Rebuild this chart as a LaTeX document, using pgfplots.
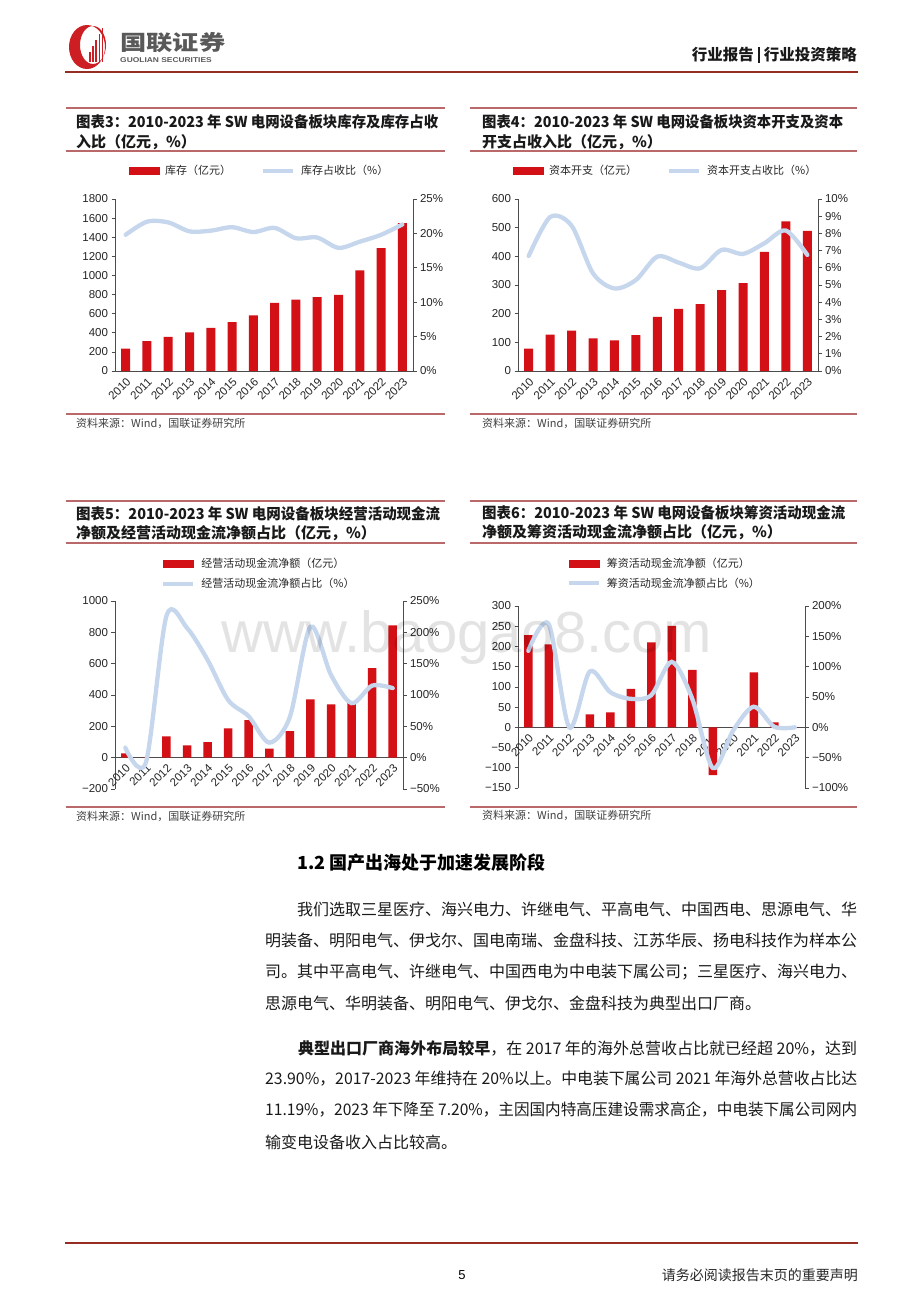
\documentclass[border=0pt]{standalone}
\usepackage{fontspec}
\setmainfont{Liberation Sans}
\newfontfamily\cjk{Noto Sans CJK SC}
\usepackage{graphicx}
\usepackage{pgfplots}
\pgfplotsset{compat=1.18}
\usepackage{pgfplotstable}

\definecolor{barred}{RGB}{210,16,22}
\definecolor{lineblue}{RGB}{197,214,237}
\definecolor{rulered}{RGB}{185,105,105}
\definecolor{headred}{RGB}{150,45,35}
\definecolor{logored}{RGB}{205,30,35}

% inventory (100m yuan) and share of revenue (%)
\pgfplotstableread{
x v p
0 235 19.8
1 312 21.7
2 357 21.6
3 403 20.3
4 452 20.4
5 511 20.9
6 581 20.2
7 714 20.8
8 746 19.3
9 774 19.4
10 798 17.9
11 1054 18.8
12 1285 19.8
13 1548 21.3
}\tabA

% capex
\pgfplotstableread{
x v p
0 78 6.69
1 127 8.95
2 141 8.45
3 114 5.68
4 107 4.80
5 125 5.29
6 189 6.65
7 217 6.30
8 233 5.97
9 282 7.04
10 307 6.81
11 416 7.43
12 522 8.17
13 489 6.75
}\tabB

% operating cash flow
\pgfplotstableread{
x v p
0 28 16
1 2 -8
2 136 226
3 79 207
4 100 156
5 187 92
6 240 66
7 57 24
8 170 65
9 372 209
10 340 132
11 360 87
12 572 115
13 845 111
}\tabC

% financing cash flow
\pgfplotstableread{
x v p
0 228 126
1 205 170
2 0 0
3 32 92
4 37 58
5 95 47
6 210 53
7 251 108
8 142 47
9 -118 -67
10 0 -5
11 136 34
12 12 1
13 0 0
}\tabD

\pgfplotsset{
  chartbase/.style={
    scale only axis, xmin=-0.5, xmax=13.5,
    axis line style={black!70, line width=0.7pt},
    tick style={black!70, line width=0.7pt},
    tick align=outside, major tick length=3.5pt,
    ticklabel style={font=\fontsize{11.5}{12}\selectfont, text=black!85},
  },
  barside/.style={
    chartbase,
    axis y line*=left, axis x line*=middle,
    xtick={0,1,2,3,4,5,6,7,8,9,10,11,12,13},
    xticklabels={2010,2011,2012,2013,2014,2015,2016,2017,2018,2019,2020,2021,2022,2023},
    major x tick style={draw=none},
    x tick label style={rotate=45, anchor=north east, inner sep=1.5pt},
    legend style={draw=none, fill=none, font=\cjk\fontsize{11}{12}\selectfont, text=black!85,
      /tikz/every odd column/.append style={column sep=4pt}},
    legend cell align=left,
  },
  lineside/.style={chartbase, axis y line*=right, axis x line=none},
  barleg/.style={legend image code/.code={\fill[barred] (0pt,-3.5pt) rectangle (30pt,3.5pt);}},
  lineleg/.style={legend image code/.code={\draw[lineblue, line width=4pt] (0pt,0pt) -- (30pt,0pt);}},
  barplot/.style={ybar, bar width=#1, fill=barred, draw=none, forget plot},
  pctline/.style={lineblue, line width=4.3pt, smooth, line cap=round},
}

\begin{document}
\begin{tikzpicture}
\useasboundingbox (0pt,0pt) rectangle (920pt,-1302pt);

\begin{scope}[x=1pt, y=-1pt]
  % header
  \fill[logored, even odd rule] (87,47) ellipse [x radius=18, y radius=22] (93,45) ellipse [x radius=13, y radius=19];
  \foreach \i/\t in {0/52,1/46,2/40,3/34,4/28} {
    \fill[logored] (89+3.2*\i,\t) rectangle (90.6+3.2*\i,62);
  }
  \node[anchor=west, inner sep=0, xscale=1.25, text=black!65, font=\cjk\bfseries\fontsize{21}{21}\selectfont] at (120,43) {国联证券};
  \node[anchor=west, inner sep=0, xscale=1.2, text=black!65, font=\bfseries\fontsize{7}{7}\selectfont] at (120,60) {GUOLIAN SECURITIES};
  \node[anchor=east, inner sep=0, text=black!90, font=\cjk\bfseries\fontsize{15.5}{16}\selectfont] at (857,55) {行业报告\;\rule[-2.5pt]{1.2pt}{16pt}\;行业投资策略};
  \draw[headred, line width=1.5pt] (65,72) -- (858,72);

  % panel rules
  \foreach \xa/\xb in {66/445, 470/857} {
    \draw[rulered, line width=1.1pt] (\xa,108) -- (\xb,108);
    \draw[rulered, line width=1.1pt] (\xa,151) -- (\xb,151);
    \draw[rulered, line width=1.1pt] (\xa,414) -- (\xb,414);
    \draw[rulered, line width=1.1pt] (\xa,501) -- (\xb,501);
    \draw[rulered, line width=1.1pt] (\xa,543) -- (\xb,543);
    \draw[rulered, line width=1.1pt] (\xa,807) -- (\xb,807);
  }

  % chart titles
  \begin{scope}[every node/.style={anchor=west, inner sep=0, text=black!90, font=\cjk\bfseries\fontsize{15}{15}\selectfont}]
    \node at (76,122) {\resizebox{362pt}{\height}{图表3：2010-2023 年 SW 电网设备板块库存及库存占收}};
    \node at (76,142) {入比（亿元，\%）};
    \node at (482,122) {\resizebox{361pt}{\height}{图表4：2010-2023 年 SW 电网设备板块资本开支及资本}};
    \node at (482,142) {开支占收入比（亿元，\%）};
    \node at (76,514) {\resizebox{364pt}{\height}{图表5：2010-2023 年 SW 电网设备板块经营活动现金流}};
    \node at (76,533) {净额及经营活动现金流净额占比（亿元，\%）};
    \node at (482,513) {\resizebox{363pt}{\height}{图表6：2010-2023 年 SW 电网设备板块筹资活动现金流}};
    \node at (482,532) {净额及筹资活动现金流净额占比（亿元，\%）};
  \end{scope}

  % sources
  \begin{scope}[every node/.style={anchor=west, inner sep=0, text=black!75, font=\cjk\fontsize{11}{11}\selectfont}]
    \node at (76,423) {资料来源：Wind，国联证券研究所};
    \node at (482,423) {资料来源：Wind，国联证券研究所};
    \node at (76,816) {资料来源：Wind，国联证券研究所};
    \node at (482,815) {资料来源：Wind，国联证券研究所};
  \end{scope}

  % body text
  \node[anchor=west, inner sep=0, text=black, font=\bfseries\cjk\fontsize{18}{18}\selectfont] at (297,863) {1.2 国产出海处于加速发展阶段};
  \begin{scope}[every node/.style={anchor=west, inner sep=0, text=black!90, font=\cjk\fontsize{16}{16}\selectfont}]
    \node at (297,909) {\resizebox{560pt}{\height}{我们选取三星医疗、海兴电力、许继电气、平高电气、中国西电、思源电气、华}};
    \node at (265,940) {\resizebox{592pt}{\height}{明装备、明阳电气、伊戈尔、国电南瑞、金盘科技、江苏华辰、扬电科技作为样本公}};
    \node at (265,972) {\resizebox{592pt}{\height}{司。其中平高电气、许继电气、中国西电为中电装下属公司；三星医疗、海兴电力、}};
    \node at (265,1003) {思源电气、华明装备、明阳电气、伊戈尔、金盘科技为典型出口厂商。};
    \node at (298,1048) {\resizebox{559pt}{\height}{\bfseries 典型出口厂商海外布局较早\mdseries ，在 2017 年的海外总营收占比就已经超 20\%，达到}};
    \node at (265,1079) {\resizebox{592pt}{\height}{23.90\%，2017-2023 年维持在 20\%以上。中电装下属公司 2021 年海外总营收占比达}};
    \node at (265,1110) {\resizebox{592pt}{\height}{11.19\%，2023 年下降至 7.20\%，主因国内特高压建设需求高企，中电装下属公司网内}};
    \node at (265,1142) {输变电设备收入占比较高。};
  \end{scope}

  % footer
  \draw[headred, line width=1.5pt] (65,1243) -- (858,1243);
  \node[inner sep=0, font=\fontsize{13}{13}\selectfont] at (462,1275) {5};
  \node[anchor=east, inner sep=0, text=black!85, font=\cjk\fontsize{14}{14}\selectfont] at (858,1275) {请务必阅读报告末页的重要声明};
\end{scope}

% ---- chart 3
\begin{axis}[barside, at={(115pt,-371pt)}, anchor=south west, width=298pt, height=172pt,
  ymin=0, ymax=1800, ytick={0,200,400,600,800,1000,1200,1400,1600,1800},
  yticklabels={0,200,400,600,800,1000,1200,1400,1600,1800},
  legend columns=2, legend style={at={(0.485,1.163)}, anchor=center, /tikz/every even column/.append style={column sep=28pt}}]
\addlegendimage{barleg}\addlegendentry{库存（亿元）}
\addlegendimage{lineleg}\addlegendentry{库存占收比（\%）}
\addplot[barplot=9pt] table[x=x,y=v]{\tabA};
\end{axis}
\begin{axis}[lineside, at={(115pt,-371pt)}, anchor=south west, width=298pt, height=172pt,
  ymin=0, ymax=25, ytick={0,5,10,15,20,25}, yticklabels={0\%,5\%,10\%,15\%,20\%,25\%}]
\addplot[pctline] table[x=x,y=p]{\tabA};
\end{axis}

% ---- chart 4
\begin{axis}[barside, at={(518pt,-371pt)}, anchor=south west, width=300pt, height=172pt,
  ymin=0, ymax=600, ytick={0,100,200,300,400,500,600},
  yticklabels={0,100,200,300,400,500,600},
  legend columns=2, legend style={at={(0.492,1.163)}, anchor=center, /tikz/every even column/.append style={column sep=28pt}}]
\addlegendimage{barleg}\addlegendentry{资本开支（亿元）}
\addlegendimage{lineleg}\addlegendentry{资本开支占收比（\%）}
\addplot[barplot=9pt] table[x=x,y=v]{\tabB};
\end{axis}
\begin{axis}[lineside, at={(518pt,-371pt)}, anchor=south west, width=300pt, height=172pt,
  ymin=0, ymax=10, ytick={0,1,2,3,4,5,6,7,8,9,10},
  yticklabels={0\%,1\%,2\%,3\%,4\%,5\%,6\%,7\%,8\%,9\%,10\%}]
\addplot[pctline] table[x=x,y=p]{\tabB};
\end{axis}

% ---- chart 5
\begin{axis}[barside, at={(115pt,-789pt)}, anchor=south west, width=288pt, height=188pt,
  ymin=-200, ymax=1000, ytick={-200,0,200,400,600,800,1000},
  yticklabels={−200,0,200,400,600,800,1000},
  legend columns=1, legend style={at={(0.5,1.146)}, anchor=center, row sep=5pt}]
\addlegendimage{barleg}\addlegendentry{经营活动现金流净额（亿元）}
\addlegendimage{lineleg}\addlegendentry{经营活动现金流净额占比（\%）}
\addplot[barplot=8.5pt] table[x=x,y=v]{\tabC};
\end{axis}
\begin{axis}[lineside, at={(115pt,-789pt)}, anchor=south west, width=288pt, height=188pt,
  ymin=-50, ymax=250, ytick={-50,0,50,100,150,200,250},
  yticklabels={−50\%,0\%,50\%,100\%,150\%,200\%,250\%}]
\addplot[pctline] table[x=x,y=p]{\tabC};
\end{axis}

% ---- chart 6
\begin{axis}[barside, at={(518pt,-788pt)}, anchor=south west, width=287pt, height=182pt,
  ymin=-150, ymax=300, ytick={-150,-100,-50,0,50,100,150,200,250,300},
  yticklabels={−150,−100,−50,0,50,100,150,200,250,300},
  legend columns=1, legend style={at={(0.51,1.179)}, anchor=center, row sep=5pt}]
\addlegendimage{barleg}\addlegendentry{筹资活动现金流净额（亿元）}
\addlegendimage{lineleg}\addlegendentry{筹资活动现金流净额占比（\%）}
\addplot[barplot=8.5pt] table[x=x,y=v]{\tabD};
\end{axis}
\begin{axis}[lineside, at={(518pt,-788pt)}, anchor=south west, width=287pt, height=182pt,
  ymin=-100, ymax=200, ytick={-100,-50,0,50,100,150,200},
  yticklabels={−100\%,−50\%,0\%,50\%,100\%,150\%,200\%}]
\addplot[pctline] table[x=x,y=p]{\tabD};
\end{axis}

% watermark
\node[anchor=base, inner sep=0, text=black, text opacity=0.11, font=\fontsize{58}{58}\selectfont] at (467pt,-652pt) {www.baogao8.com};
\end{tikzpicture}
\end{document}
